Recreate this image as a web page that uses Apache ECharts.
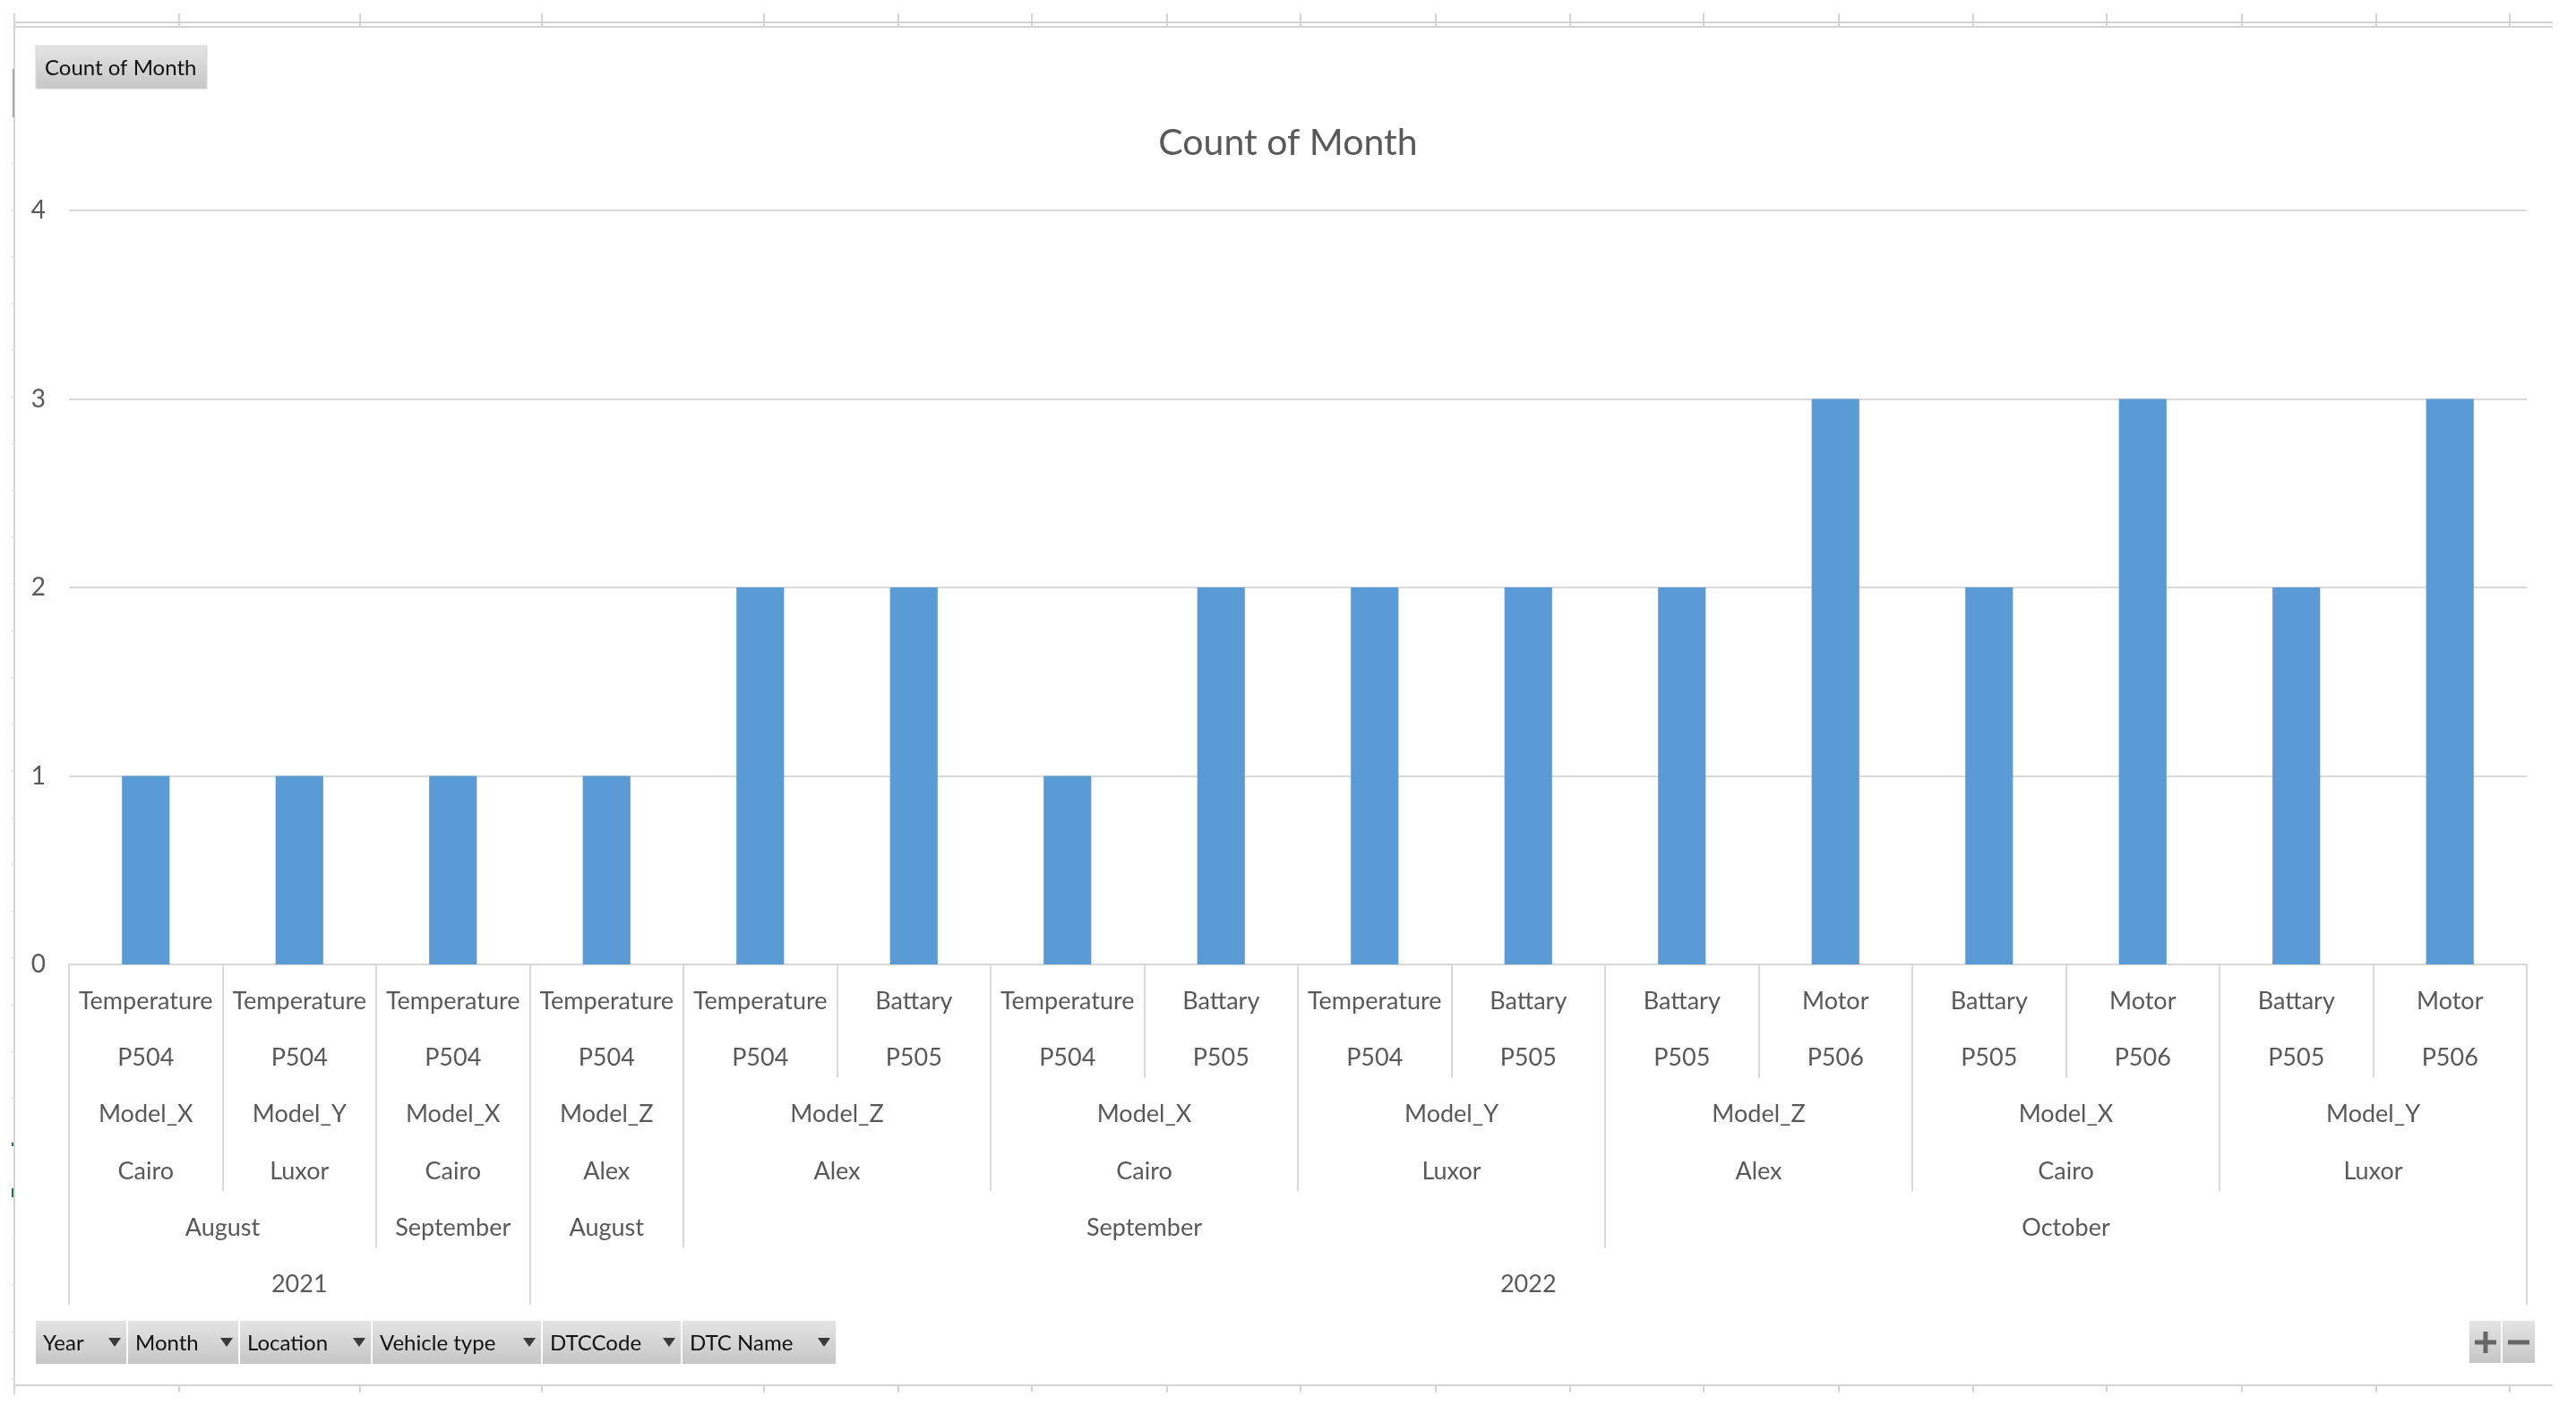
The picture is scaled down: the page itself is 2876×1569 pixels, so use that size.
<!DOCTYPE html>
<html><head><meta charset="utf-8">
<style>html,body{margin:0;padding:0;background:#fff;}#chart{width:2876px;height:1569px;}</style>
<script src="https://cdn.jsdelivr.net/npm/echarts@6/dist/echarts.min.js"></script>
</head><body><div id="chart"></div>
<script>
// ---- data ----
const dtcName = ['Temperature','Temperature','Temperature','Temperature','Temperature','Battary','Temperature','Battary','Temperature','Battary','Battary','Motor','Battary','Motor','Battary','Motor'];
const dtcCode = ['P504','P504','P504','P504','P504','P505','P504','P505','P504','P505','P505','P506','P505','P506','P505','P506'];
const vehicleType = ['Model_X','Model_Y','Model_X','Model_Z','Model_Z','Model_Z','Model_X','Model_X','Model_Y','Model_Y','Model_Z','Model_Z','Model_X','Model_X','Model_Y','Model_Y'];
const locationName = ['Cairo','Luxor','Cairo','Alex','Alex','Alex','Cairo','Cairo','Luxor','Luxor','Alex','Alex','Cairo','Cairo','Luxor','Luxor'];
const monthName = ['August','August','September','August','September','September','September','September','September','September','October','October','October','October','October','October'];
const yearName = ['2021','2021','2021','2022','2022','2022','2022','2022','2022','2022','2022','2022','2022','2022','2022','2022'];
const counts = [1,1,1,1,2,2,1,2,2,2,2,3,2,3,2,3];
const yTicks = [0,1,2,3,4];
const titleText = 'Count of Month';
const fieldButtons = ['Year','Month','Location','Vehicle type','DTCCode','DTC Name'];

// ---- style constants ----
const FONT = 'Lato, "Open Sans", sans-serif';
const LABEL_COLOR = '#595959';
const LINE_COLOR = '#d9d9d9';
const ROW_H = 63.3;
const LABEL_FS = 27;
const N = counts.length;

// unique category keys for the bar axis
const catKeys = dtcName.map((d, i) => [yearName[i], monthName[i], locationName[i], vehicleType[i], dtcCode[i], d].join('|'));

// hierarchy from outermost to innermost
const levels = [yearName, monthName, locationName, vehicleType, dtcCode, dtcName];

function groupsFor(depth) {
  const key = i => levels.slice(0, depth + 1).map(a => a[i]).join('|');
  const out = []; let start = 0;
  for (let i = 1; i <= N; i++) {
    if (i === N || key(i) !== key(start)) { out.push({start, end: i, label: levels[depth][start]}); start = i; }
  }
  return out;
}

// rows 2..6 (dtcCode, vehicleType, location, month, year) as half-step label axes
const extraAxes = [];
const rowLevels = [4, 3, 2, 1, 0]; // depth index for row 2..6
rowLevels.forEach((depth, r) => {
  const gs = groupsFor(depth);
  const data = new Array(2 * N + 1).fill('');
  const bset = new Set([2 * N]);
  gs.forEach(g => { data[g.start + g.end] = g.label; bset.add(2 * g.start); });
  extraAxes.push({
    type: 'category', gridIndex: 0, position: 'bottom', offset: ROW_H * (r + 1),
    boundaryGap: false, data, min: 0, max: 2 * N, silent: true,
    axisLine: {show: false},
    axisTick: {show: true, length: ROW_H, interval: (i) => bset.has(i), lineStyle: {color: LINE_COLOR, width: 2}},
    axisLabel: {interval: 0, margin: 41, verticalAlign: 'middle', color: LABEL_COLOR, fontSize: LABEL_FS, fontFamily: FONT, hideOverlap: false},
    splitLine: {show: false}
  });
});

// ---- decorative frame / pivot buttons ----
const graphics = [];
const frameColor = '#d4d4d4';
const colTicks = [200, 402, 605, 853, 1003, 1152, 1303, 1452, 1603, 1753, 1902, 2053, 2203, 2352, 2503, 2653, 2802];
graphics.push({type: 'line', shape: {x1: 17, y1: 25, x2: 2850, y2: 25}, style: {stroke: frameColor, lineWidth: 2}, silent: true});
graphics.push({type: 'line', shape: {x1: 17, y1: 30, x2: 2850, y2: 30}, style: {stroke: frameColor, lineWidth: 2}, silent: true});
graphics.push({type: 'line', shape: {x1: 16, y1: 15, x2: 16, y2: 1557}, style: {stroke: frameColor, lineWidth: 2}, silent: true});
graphics.push({type: 'line', shape: {x1: 16, y1: 1547, x2: 2850, y2: 1547}, style: {stroke: frameColor, lineWidth: 2}, silent: true});
colTicks.forEach(x => {
  graphics.push({type: 'line', shape: {x1: x, y1: 15, x2: x, y2: 30}, style: {stroke: frameColor, lineWidth: 2}, silent: true});
  graphics.push({type: 'line', shape: {x1: x, y1: 1547, x2: x, y2: 1555}, style: {stroke: frameColor, lineWidth: 2}, silent: true});
});
for (let y = 78; y < 1547; y += 52.2) {
  graphics.push({type: 'line', shape: {x1: 12, y1: y, x2: 16, y2: y}, style: {stroke: '#e0e0e0', lineWidth: 1}, silent: true});
}
graphics.push({type: 'line', shape: {x1: 15, y1: 77, x2: 15, y2: 131}, style: {stroke: '#a8a8a8', lineWidth: 2}, silent: true});
graphics.push({type: 'rect', shape: {x: 13, y: 1276, width: 2, height: 4}, style: {fill: '#217346'}, silent: true});
graphics.push({type: 'rect', shape: {x: 13, y: 1327, width: 2, height: 10}, style: {fill: '#217346'}, silent: true});

const btnFill = {type: 'linear', x: 0, y: 0, x2: 0, y2: 1, colorStops: [{offset: 0, color: '#e4e4e4'}, {offset: 1, color: '#c6c6c6'}]};
// "Count of Month" value button
graphics.push({type: 'rect', shape: {x: 40, y: 51, width: 191, height: 48}, style: {fill: btnFill, stroke: '#d6d6d6', lineWidth: 1}, silent: true});
graphics.push({type: 'text', x: 50, y: 76, style: {text: titleText, font: '24px ' + FONT, fill: '#111', verticalAlign: 'middle', align: 'left'}, silent: true});
// field buttons
const btnEdges = [40, 143, 268, 416, 606, 762, 935];
fieldButtons.forEach((t, i) => {
  const x0 = btnEdges[i], x1 = btnEdges[i + 1] - 2;
  graphics.push({type: 'rect', shape: {x: x0, y: 1475, width: x1 - x0, height: 48}, style: {fill: btnFill}, silent: true});
  graphics.push({type: 'text', x: x0 + 8, y: 1500, style: {text: t, font: '24px ' + FONT, fill: '#111', verticalAlign: 'middle', align: 'left'}, silent: true});
  const cx = x1 - 13;
  graphics.push({type: 'polygon', shape: {points: [[cx - 7, 1494], [cx + 7, 1494], [cx, 1504]]}, style: {fill: '#3a3a3a'}, silent: true});
});
// +/- buttons
graphics.push({type: 'rect', shape: {x: 2757, y: 1475, width: 35, height: 47}, style: {fill: btnFill}, silent: true});
graphics.push({type: 'rect', shape: {x: 2794, y: 1475, width: 36, height: 47}, style: {fill: btnFill}, silent: true});
graphics.push({type: 'line', shape: {x1: 2763, y1: 1499, x2: 2787, y2: 1499}, style: {stroke: '#666', lineWidth: 5}, silent: true});
graphics.push({type: 'line', shape: {x1: 2775, y1: 1487, x2: 2775, y2: 1511}, style: {stroke: '#666', lineWidth: 5}, silent: true});
graphics.push({type: 'line', shape: {x1: 2800, y1: 1499, x2: 2824, y2: 1499}, style: {stroke: '#666', lineWidth: 5}, silent: true});

const chart = echarts.init(document.getElementById('chart'), null, {renderer: 'canvas'});
chart.setOption({
  animation: false,
  backgroundColor: '#ffffff',
  title: {
    text: titleText, left: 'center', top: 139, padding: 0,
    textStyle: {fontFamily: FONT, fontSize: 41, fontWeight: 'normal', color: LABEL_COLOR, lineHeight: 41}
  },
  grid: {left: 77, right: 55, top: 235, bottom: 492, containLabel: false, outerBoundsMode: 'none'},
  xAxis: [{
    type: 'category', gridIndex: 0, position: 'bottom', data: catKeys, boundaryGap: true,
    axisLine: {show: true, lineStyle: {color: LINE_COLOR, width: 2}},
    axisTick: {show: true, length: ROW_H, interval: 0, alignWithLabel: false, lineStyle: {color: LINE_COLOR, width: 2}},
    axisLabel: {interval: 0, margin: 41, verticalAlign: 'middle', color: LABEL_COLOR, fontSize: LABEL_FS, fontFamily: FONT,
      formatter: (v, i) => dtcName[i]},
    splitLine: {show: false}
  }].concat(extraAxes),
  yAxis: {
    type: 'value', min: yTicks[0], max: yTicks[yTicks.length - 1], interval: 1,
    axisLine: {show: false}, axisTick: {show: false},
    axisLabel: {margin: 26, color: LABEL_COLOR, fontSize: 28, fontFamily: FONT},
    splitLine: {show: true, lineStyle: {color: LINE_COLOR, width: 2}}
  },
  series: [{
    type: 'bar', xAxisIndex: 0, data: counts, barWidth: '31%',
    itemStyle: {color: '#5b9bd5'}
  }],
  graphic: graphics
});
</script></body></html>
